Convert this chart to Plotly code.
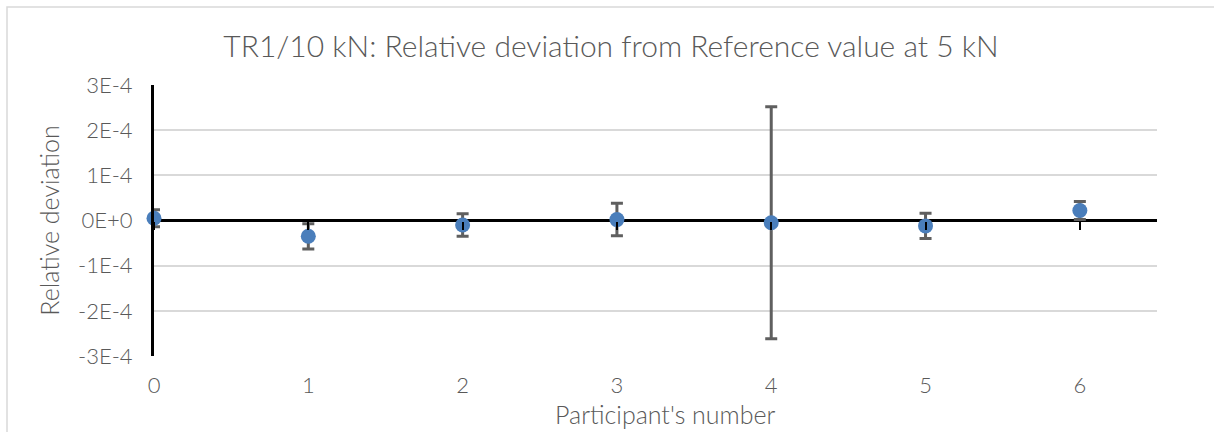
import plotly.graph_objects as go

# ---- data ----
participants = [0, 1, 2, 3, 4, 5, 6]
rel_dev = [5e-6, -3.5e-5, -1.0e-5, 2e-6, -5e-6, -1.2e-5, 2.2e-5]
uncert = [1.9e-5, 2.8e-5, 2.5e-5, 3.6e-5, 2.57e-4, 2.8e-5, 2.0e-5]
y_tickvals = [-3e-4, -2e-4, -1e-4, 0, 1e-4, 2e-4, 3e-4]
y_ticktext = ["-3E-4", "-2E-4", "-1E-4", "0E+0", "1E-4", "2E-4", "3E-4"]
x_tickvals = [0, 1, 2, 3, 4, 5, 6]

FONT = "Lato"
TXT = "#595959"

fig = go.Figure()
# invisible helper so the zero-crossing category axis (ticks) is drawn
fig.add_trace(go.Scatter(x=participants, y=[None] * len(participants),
                         xaxis="x2", mode="markers", showlegend=False,
                         hoverinfo="skip"))
fig.add_trace(go.Scatter(
    x=participants, y=rel_dev, mode="markers",
    marker=dict(size=15, color="#4A7EBB"),
    error_y=dict(type="data", array=uncert, visible=True,
                 color="#5F5F5F", thickness=3, width=6),
    showlegend=False, cliponaxis=False,
))

W, H = 1214, 432
L, R, T, B = 154, 1157, 85, 356
pw, ph = R - L, B - T

fig.update_layout(
    width=W, height=H,
    margin=dict(l=L, r=W - R, t=T, b=H - B),
    paper_bgcolor="white", plot_bgcolor="white",
    font=dict(family=FONT, color=TXT),
    title=dict(text="TR1/10 kN: Relative deviation from Reference value at 5 kN",
               x=611 / W, xanchor="center", xref="container",
               y=1 - 46 / H, yanchor="middle", yref="container",
               font=dict(size=30, color=TXT, family=FONT, weight=300)),
    xaxis=dict(range=[0, 6.5], tickvals=x_tickvals, showgrid=False,
               zeroline=False, showline=False, ticks="",
               ticklabelstandoff=14,
               tickfont=dict(size=22, color=TXT, family=FONT, weight=300)),
    xaxis2=dict(overlaying="x", matches="x", anchor="free", position=0.5,
                tickvals=x_tickvals, showticklabels=False, showgrid=False,
                zeroline=False, showline=False, ticks="outside",
                ticklen=8, tickwidth=1.5, tickcolor="black"),
    yaxis=dict(range=[-3e-4, 3e-4], tickvals=y_tickvals, ticktext=y_ticktext,
               showgrid=True, gridcolor="#D9D9D9", gridwidth=1.5,
               zeroline=True, zerolinecolor="black", zerolinewidth=2.5,
               showline=True, linecolor="black", linewidth=3,
               ticks="", ticklabelstandoff=14,
               tickfont=dict(size=22, color=TXT, family=FONT, weight=300),
               title=dict(text="Relative deviation", standoff=12,
                          font=dict(size=25, color=TXT, family=FONT, weight=300))),
)

fig.add_annotation(text="Participant's number", xref="paper", yref="paper",
                   x=(665 - L) / pw, y=(B - 414) / ph,
                   xanchor="center", yanchor="middle", showarrow=False,
                   font=dict(size=25, color=TXT, family=FONT, weight=300))

# chart area border (only left/top visible in the crop)
fig.add_shape(type="rect", xref="paper", yref="paper",
              x0=(7 - L) / pw, x1=(1225 - L) / pw,
              y0=(B - 445) / ph, y1=(B - 7) / ph,
              line=dict(color="#D9D9D9", width=1.5), layer="below")

fig.write_html("out.html", config={"displayModeBar": False},
               post_script="document.body.style.margin='0px';document.body.style.overflow='hidden';")
